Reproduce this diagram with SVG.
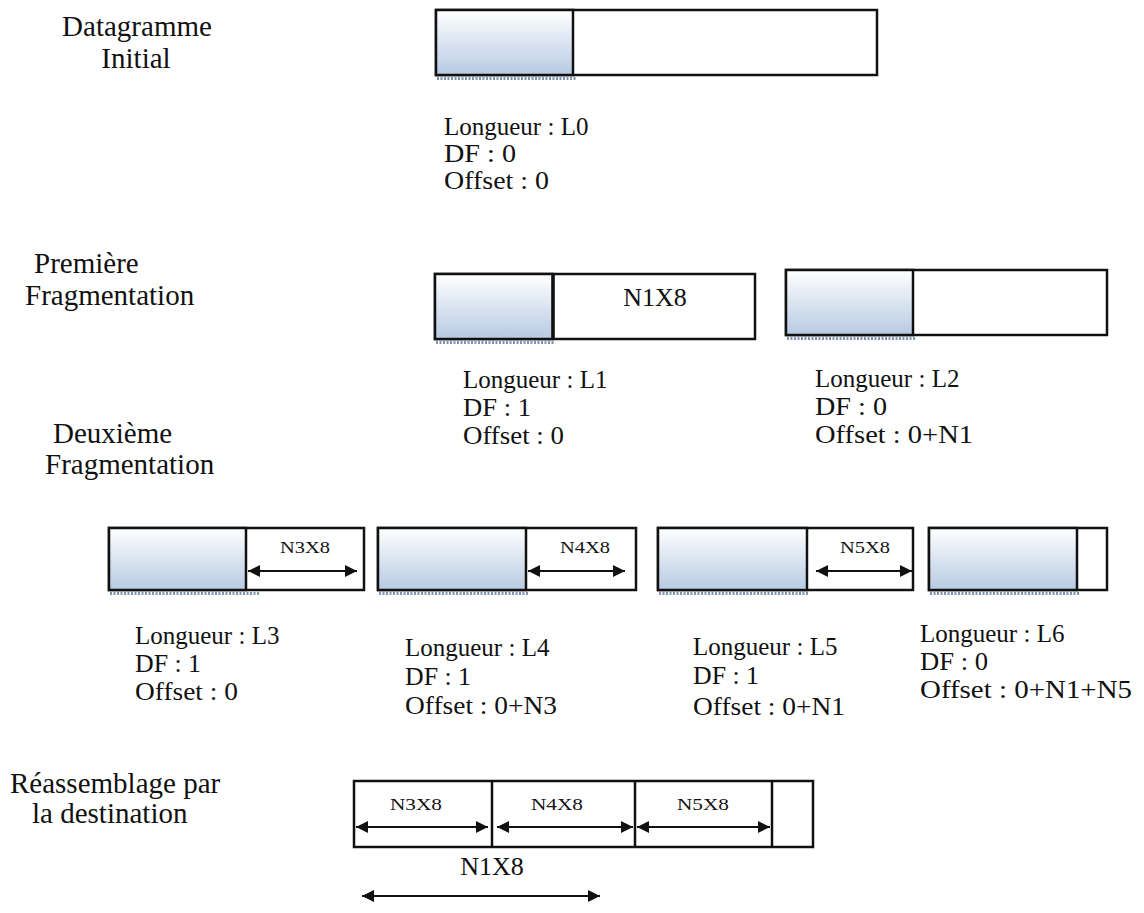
<svg xmlns="http://www.w3.org/2000/svg" width="1144" height="913" viewBox="0 0 1144 913">
  <style>
    text { font-family: "Liberation Serif", "DejaVu Serif", serif; fill: #111; }
    .lbl { font-size: 29px; }
    .info { font-size: 25px; }
    .small { font-size: 17px; }
    .mid { font-size: 26px; }
    .box { fill: #fff; stroke: #111; stroke-width: 2.5; }
    .hdr { fill: url(#hdrGrad); stroke: #111; stroke-width: 2.5; }
    .div { stroke: #111; stroke-width: 2.5; }
    .shadow { stroke: #7f93b3; stroke-width: 3; stroke-dasharray: 2 1.5; }
    .arr { stroke: #111; stroke-width: 2; fill: none; marker-start: url(#headL); marker-end: url(#headR); }
  </style>
  <defs>
    <linearGradient id="hdrGrad" x1="0" y1="0" x2="0" y2="1">
      <stop offset="0" stop-color="#ffffff"/>
      <stop offset="1" stop-color="#b7cae2"/>
    </linearGradient>
    <marker id="headR" viewBox="0 0 10 10" refX="10" refY="5" markerWidth="6" markerHeight="6" orient="auto" markerUnits="strokeWidth">
      <path d="M0,0 L10,5 L0,10 z" fill="#111"/>
    </marker>
    <marker id="headL" viewBox="0 0 10 10" refX="0" refY="5" markerWidth="6" markerHeight="6" orient="auto" markerUnits="strokeWidth">
      <path d="M10,0 L0,5 L10,10 z" fill="#111"/>
    </marker>
  </defs>

  <!-- stage labels -->
  <g id="stage-labels">
    <text class="lbl" x="137" y="36" text-anchor="middle">Datagramme</text>
    <text class="lbl" x="136" y="68" text-anchor="middle">Initial</text>
    <text class="lbl" x="34" y="273">Première</text>
    <text class="lbl" x="25" y="305">Fragmentation</text>
    <text class="lbl" x="53" y="443">Deuxième</text>
    <text class="lbl" x="45" y="474">Fragmentation</text>
    <text class="lbl" x="10" y="793">Réassemblage par</text>
    <text class="lbl" x="32" y="823">la destination</text>
  </g>

  <!-- initial datagram -->
  <g id="dg0">
    <rect class="box" x="436" y="10" width="441" height="65"/>
    <rect class="hdr" x="436" y="10" width="137" height="65"/>
    <line class="shadow" x1="437" y1="78.5" x2="577" y2="78.5"/>
    <text class="info" x="444" y="135">Longueur : L0</text>
    <text class="info" x="444" y="162" textLength="72" lengthAdjust="spacingAndGlyphs">DF : 0</text>
    <text class="info" x="444" y="189" textLength="105" lengthAdjust="spacingAndGlyphs">Offset : 0</text>
  </g>

  <!-- first fragmentation -->
  <g id="f1">
    <rect class="box" x="435" y="274" width="320" height="65"/>
    <rect class="hdr" x="435" y="274" width="118" height="65"/>
    <line class="div" x1="553" y1="274" x2="553" y2="339" style="stroke-width:3.5"/>
    <line class="shadow" x1="436" y1="342.5" x2="554" y2="342.5"/>
    <text class="mid" x="655" y="306" text-anchor="middle">N1X8</text>
    <text class="info" x="463" y="388">Longueur : L1</text>
    <text class="info" x="463" y="416" textLength="68" lengthAdjust="spacingAndGlyphs">DF : 1</text>
    <text class="info" x="463" y="444" textLength="101" lengthAdjust="spacingAndGlyphs">Offset : 0</text>
  </g>
  <g id="f2">
    <rect class="box" x="786" y="270" width="321" height="65"/>
    <rect class="hdr" x="786" y="270" width="127" height="65"/>
    <line class="shadow" x1="787" y1="338.5" x2="916" y2="338.5"/>
    <text class="info" x="815" y="387">Longueur : L2</text>
    <text class="info" x="815" y="415" textLength="72" lengthAdjust="spacingAndGlyphs">DF : 0</text>
    <text class="info" x="815" y="443" textLength="158" lengthAdjust="spacingAndGlyphs">Offset : 0+N1</text>
  </g>

  <!-- second fragmentation -->
  <g id="f3">
    <rect class="box" x="109" y="528" width="255" height="62"/>
    <rect class="hdr" x="109" y="528" width="137" height="62"/>
    <line class="shadow" x1="110" y1="593.5" x2="259" y2="593.5"/>
    <text class="small" x="305" y="553" text-anchor="middle" textLength="50" lengthAdjust="spacingAndGlyphs">N3X8</text>
    <text class="info" x="135" y="644">Longueur : L3</text>
    <text class="info" x="135" y="672" textLength="66" lengthAdjust="spacingAndGlyphs">DF : 1</text>
    <text class="info" x="135" y="700" textLength="103" lengthAdjust="spacingAndGlyphs">Offset : 0</text>
  </g>
  <g id="f4">
    <rect class="box" x="378" y="528" width="258" height="62"/>
    <rect class="hdr" x="378" y="528" width="148" height="62"/>
    <line class="shadow" x1="379" y1="593.5" x2="529" y2="593.5"/>
    <text class="small" x="585" y="553" text-anchor="middle" textLength="50" lengthAdjust="spacingAndGlyphs">N4X8</text>
    <text class="info" x="405" y="656">Longueur : L4</text>
    <text class="info" x="405" y="685" textLength="66" lengthAdjust="spacingAndGlyphs">DF : 1</text>
    <text class="info" x="405" y="714" textLength="152" lengthAdjust="spacingAndGlyphs">Offset : 0+N3</text>
  </g>
  <g id="f5">
    <rect class="box" x="658" y="528" width="255" height="62"/>
    <rect class="hdr" x="658" y="528" width="149" height="62"/>
    <line class="shadow" x1="659" y1="593.5" x2="809" y2="593.5"/>
    <text class="small" x="865" y="553" text-anchor="middle" textLength="50" lengthAdjust="spacingAndGlyphs">N5X8</text>
    <text class="info" x="693" y="655">Longueur : L5</text>
    <text class="info" x="693" y="684" textLength="66" lengthAdjust="spacingAndGlyphs">DF : 1</text>
    <text class="info" x="693" y="715" textLength="152" lengthAdjust="spacingAndGlyphs">Offset : 0+N1</text>
  </g>
  <g id="f6">
    <rect class="box" x="929" y="528" width="178" height="62"/>
    <rect class="hdr" x="929" y="528" width="148" height="62"/>
    <line class="shadow" x1="930" y1="593.5" x2="1080" y2="593.5"/>
    <text class="info" x="920" y="642">Longueur : L6</text>
    <text class="info" x="920" y="670" textLength="68" lengthAdjust="spacingAndGlyphs">DF : 0</text>
    <text class="info" x="920" y="698" textLength="212" lengthAdjust="spacingAndGlyphs">Offset : 0+N1+N5</text>
  </g>

  <!-- reassembled datagram -->
  <g id="reassembly">
    <rect class="box" x="354" y="781" width="459" height="66"/>
    <line class="div" x1="492" y1="781" x2="492" y2="847"/>
    <line class="div" x1="635" y1="781" x2="635" y2="847"/>
    <line class="div" x1="772" y1="781" x2="772" y2="847"/>
    <text class="small" x="416" y="810" text-anchor="middle" textLength="52" lengthAdjust="spacingAndGlyphs">N3X8</text>
    <text class="small" x="557" y="810" text-anchor="middle" textLength="52" lengthAdjust="spacingAndGlyphs">N4X8</text>
    <text class="small" x="703" y="810" text-anchor="middle" textLength="52" lengthAdjust="spacingAndGlyphs">N5X8</text>
    <text class="mid" x="492" y="875" text-anchor="middle">N1X8</text>
  </g>

  <!-- dimension arrows -->
  <g id="connectors">
    <line class="arr" x1="248" y1="571" x2="357" y2="571"/>
    <line class="arr" x1="528" y1="571" x2="625" y2="571"/>
    <line class="arr" x1="816" y1="571" x2="912" y2="571"/>
    <line class="arr" x1="356" y1="827" x2="488" y2="827"/>
    <line class="arr" x1="497" y1="827" x2="633" y2="827"/>
    <line class="arr" x1="637" y1="827" x2="770" y2="827"/>
    <line class="arr" x1="362" y1="896" x2="600" y2="896"/>
  </g>
</svg>
